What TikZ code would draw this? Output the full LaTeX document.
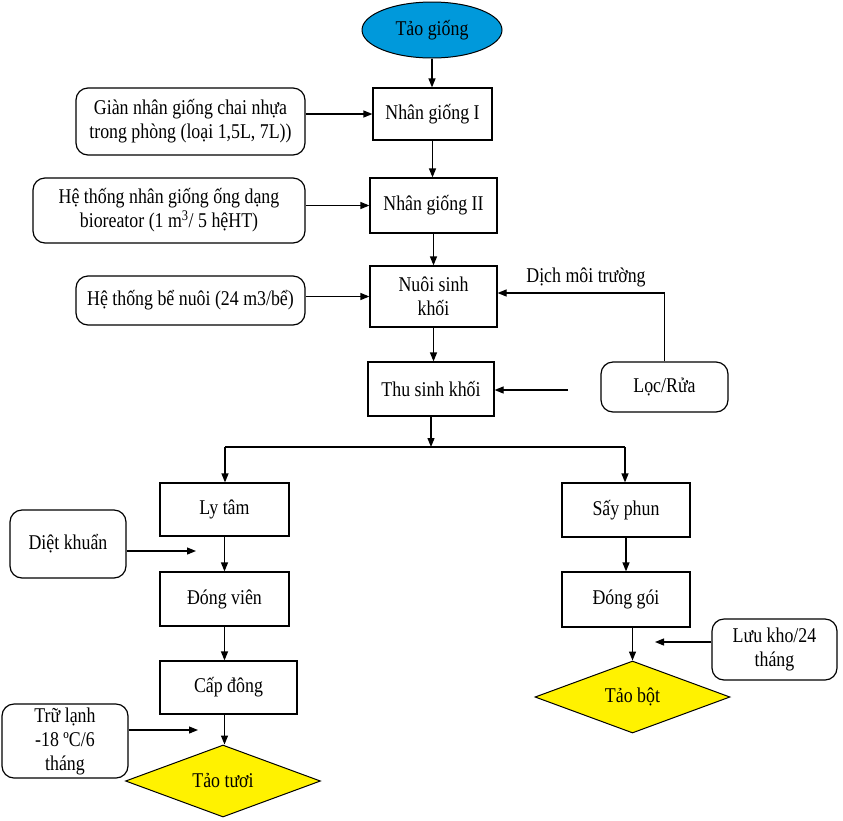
\documentclass[tikz,border=0pt]{standalone}
\usepackage{fontspec}
\setmainfont[FakeStretch=0.85]{Liberation Serif}
\usetikzlibrary{shapes.geometric,arrows.meta}
\definecolor{ellblue}{RGB}{0,153,219}
\tikzstyle{bx}=[rectangle,draw=black,line width=1.2pt,align=center,inner sep=2pt]
\tikzstyle{rbx}=[rectangle,rounded corners=12pt,draw=black,line width=1.2pt,align=center,inner sep=2pt]
\tikzstyle{dia}=[diamond,aspect=2.8,draw=black,line width=1pt,fill=yellow,inner sep=0pt,minimum width=195pt,minimum height=72pt]
\tikzstyle{arr}=[-{Triangle[length=9pt,width=7pt]},line width=1.2pt]

\begin{document}
\begin{tikzpicture}[x=1pt,y=-1pt,font=\fontsize{21}{24}\selectfont]
\useasboundingbox (0,0) rectangle (843,820);
% main line
\node[ellipse,draw=black,line width=1pt,fill=ellblue,minimum width=140pt,minimum height=56pt] (tg) at (432,30) {Tảo giống};
\node[bx,minimum width=119pt,minimum height=52pt] (n1) at (432.5,114) {Nhân giống I};
\node[bx,minimum width=127pt,minimum height=55pt] (n2) at (433.5,205.5) {Nhân giống II};
\node[bx,minimum width=127pt,minimum height=61pt] (ns) at (433.5,296.5) {Nuôi sinh\\khối};
\node[bx,minimum width=126pt,minimum height=54pt] (thu) at (431,389) {Thu sinh khối};
% inputs
\node[rbx,minimum width=229pt,minimum height=67pt] (g1) at (190.5,121.5) {Giàn nhân giống chai nhựa\\trong phòng (loại 1,5L, 7L))};
\node[rbx,minimum width=272pt,minimum height=65pt] (g2) at (169,210.5) {Hệ thống nhân giống ống dạng\\bioreator (1 m\textsuperscript{3}/ 5 hệHT)};
\node[rbx,minimum width=229pt,minimum height=49pt] (g3) at (190.5,300.5) {Hệ thống bể nuôi (24 m3/bể)};
\node[rbx,minimum width=127pt,minimum height=50pt] (loc) at (664.5,387) {Lọc/Rửa};
\node[] (dmt) at (586,277) {Dịch môi trường};
% left branch
\node[bx,minimum width=129pt,minimum height=53pt] (ly) at (224.5,509.5) {Ly tâm};
\node[bx,minimum width=129pt,minimum height=54pt] (dv) at (224.5,599) {Đóng viên};
\node[bx,minimum width=137pt,minimum height=53pt] (cd) at (228.5,687.5) {Cấp đông};
\node[dia] (tt) at (223,781) {Tảo tươi};
\node[rbx,minimum width=116pt,minimum height=68pt] (diet) at (68,544) {Diệt khuẩn};
\node[rbx,minimum width=126pt,minimum height=74pt] (tru) at (65,741) {Trữ lạnh\\-18 ºC/6\\tháng};
% right branch
\node[bx,minimum width=128pt,minimum height=54pt] (say) at (626,510) {Sấy phun};
\node[bx,minimum width=128pt,minimum height=55pt] (dg) at (626,599.5) {Đóng gói};
\node[dia] (tb) at (632.5,697) {Tảo bột};
\node[rbx,minimum width=125pt,minimum height=61pt] (luu) at (774.5,649.5) {Lưu kho/24\\tháng};
% free ends
\coordinate (lw) at (568,390);
\coordinate (sp) at (431,447);
\coordinate (sl) at (225,447);
\coordinate (sr) at (625,447);
\coordinate (dk) at (196,551);
\coordinate (tl) at (198,730);
\coordinate (lk) at (655,642);
% connectors
\draw[arr] (tg.south) -- (tg.south |- n1.north);
\draw[arr] (n1.south) -- (n1.south |- n2.north);
\draw[arr] (n2.south) -- (ns.north);
\draw[arr] (ns.south) -- (ns.south |- thu.north);
\draw[arr] (g1.east |- n1.west) -- (n1.west);
\draw[arr] (g2.east |- n2.west) -- (n2.west);
\draw[arr] (g3.east |- ns.west) -- (ns.west);
\draw[arr] (loc.north) |- (ns.east |- 0,293);
\draw[arr] (lw) -- (thu.east |- lw);
\draw[arr] (thu.south -| sp) -- (sp);
\draw[line width=1.2pt] (sl) -- (sr);
\draw[arr] (sl) -- (sl |- ly.north);
\draw[arr] (sr) -- (sr |- say.north);
\draw[arr] (ly.south) -- (dv.north);
\draw[arr] (dv.south) -- (dv.south |- cd.north);
\draw[arr] (cd.south -| dv.south) -- (tt.north -| dv.south);
\draw[arr] (diet.east |- dk) -- (dk);
\draw[arr] (tru.east |- tl) -- (tl);
\draw[arr] (say.south) -- (dg.north);
\draw[arr] (tb.north |- dg.south) -- (tb.north);
\draw[arr] (luu.west |- lk) -- (lk);
\end{tikzpicture}
\end{document}
